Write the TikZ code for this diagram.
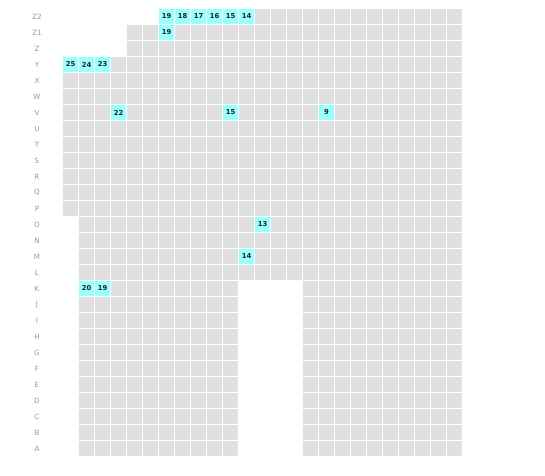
\documentclass[tikz,border=0pt]{standalone}
\usepackage{fontspec}
\setmainfont{DejaVu Sans}
\definecolor{cellgray}{HTML}{E0E0E0}
\definecolor{cellcyan}{HTML}{99FFFF}
\definecolor{labgray}{HTML}{999999}
\definecolor{numtext}{HTML}{222222}
\tikzset{
  cellbox/.style={fill=cellgray, draw=none, minimum width=15pt, minimum height=15pt, inner sep=0pt, outer sep=0pt},
  hlbox/.style={fill=cellcyan, draw=none, minimum width=15pt, minimum height=15pt, inner sep=0pt, outer sep=0pt, text=numtext, font=\bfseries\fontsize{6.8}{7}\selectfont},
  rowlab/.style={text=labgray, inner sep=0pt, font=\fontsize{7.2}{8}\selectfont}
}
\begin{document}
\begin{tikzpicture}[x=1pt, y=-1pt]
\useasboundingbox (0,0) rectangle (545,475);
% row labels
\foreach \r/\lab in {0/Z2,1/Z1,2/Z,3/Y,4/X,5/W,6/V,7/U,8/T,9/S,10/R,11/Q,12/P,13/O,14/N,15/M,16/L,17/K,18/J,19/I,20/H,21/G,22/F,23/E,24/D,25/C,26/B,27/A}
  \node[rowlab] (lab-\r) at (37, 16.5+16*\r) {\lab};
% gray cells
\foreach \r/\a/\b in {0/6/24,1/4/24,2/4/24,3/0/24,4/0/24,5/0/24,6/0/24,7/0/24,8/0/24,9/0/24,10/0/24,11/0/24,12/0/24,
  13/1/24,14/1/24,15/1/24,16/1/24,
  17/1/10,18/1/10,19/1/10,20/1/10,21/1/10,22/1/10,23/1/10,24/1/10,25/1/10,26/1/10,27/1/10,
  17/15/24,18/15/24,19/15/24,20/15/24,21/15/24,22/15/24,23/15/24,24/15/24,25/15/24,26/15/24,27/15/24}
  \foreach \c in {\a,...,\b}
    \node[cellbox] (c-\r-\c) at (70.5+16*\c, 16.5+16*\r) {};
% highlighted cells
\foreach \r/\c/\v in {0/6/19,0/7/18,0/8/17,0/9/16,0/10/15,0/11/14,1/6/19,3/0/25,3/1/24,3/2/23,6/3/22,6/10/15,6/16/9,13/12/13,15/11/14,17/1/20,17/2/19}
  \node[hlbox] (h-\r-\c) at (70.5+16*\c, 16.5+16*\r) {\v};
\end{tikzpicture}
\end{document}
